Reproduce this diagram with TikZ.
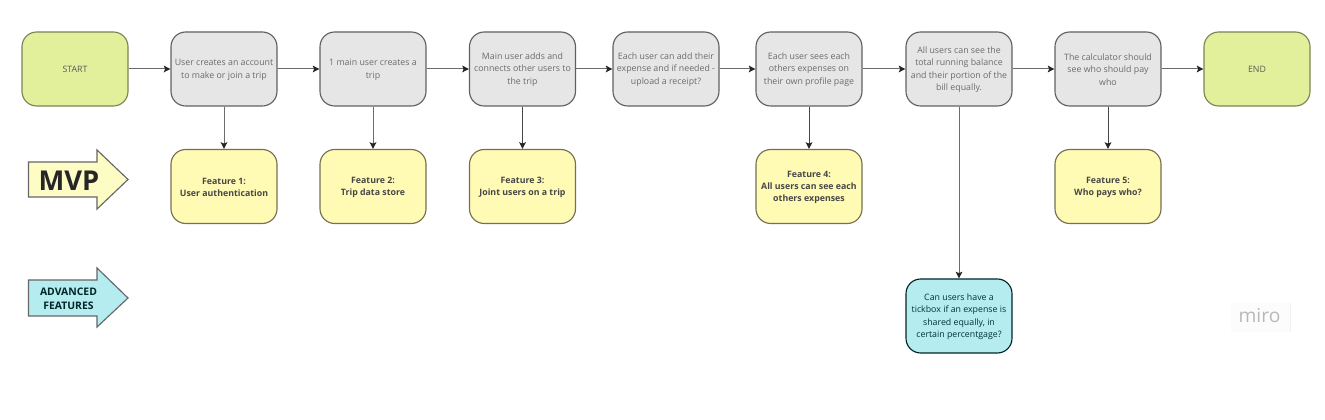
\documentclass[tikz,border=0pt]{standalone}
\usepackage{fontspec}
\setmainfont{Open Sans}
\usetikzlibrary{arrows.meta}
\definecolor{greenf}{HTML}{E2F09C}
\definecolor{grayf}{HTML}{E6E6E6}
\definecolor{yelf}{HTML}{FFFAB4}
\definecolor{tealf}{HTML}{B5ECF0}
\definecolor{arrowy}{HTML}{FDFCC4}
\newcommand{\lowerline}{\rule{0pt}{6pt}}
\tikzset{
  box/.style={draw=#1, line width=0.85pt, rounded corners=11pt, minimum width=79.5pt, minimum height=55.5pt, inner sep=0pt, align=center, font=\fontsize{6.6}{9.3}\selectfont},
  startbox/.style={box=#1!55!black, fill=greenf, text=black!65},
  stepbox/.style={box=black!62, fill=grayf, text=black!58},
  featbox/.style={box=#1!45!black, fill=yelf, text=black!72, font=\fontsize{6.6}{9.1}\selectfont\bfseries},
  advbox/.style={box=black!70!teal, fill=tealf, text=black!60!teal},
  flow/.style={draw=black!58, line width=0.75pt, -{Stealth[length=5pt,width=5pt,inset=1pt,black!85]}},
  flowdark/.style={flow, draw=black!72},
  bigarrow/.style={draw=black!60, line width=0.85pt, line join=miter},
}
\begin{document}
\begin{tikzpicture}[x=0.75pt,y=-0.75pt]
\useasboundingbox (0,0) rectangle (1325,420);
\fill[white] (0,0) rectangle (1325,420);
% main row
\node[startbox=greenf] (start) at (75,69) {\rule{0pt}{6pt}START};
\node[stepbox] (s1) at (224,69) {\lowerline User creates an account\\to make or join a trip};
\node[stepbox] (s2) at (373,69) {\lowerline 1 main user creates a\\trip};
\node[stepbox] (s3) at (522.5,69) {\lowerline Main user adds and\\connects other users to\\the trip};
\node[stepbox] (s4) at (666,69) {\lowerline Each user can add their\\expense and if needed -\\upload a receipt?};
\node[stepbox] (s5) at (809,69) {\lowerline Each user sees each\\others expenses on\\their own profile page};
\node[stepbox] (s6) at (959,69) {\lowerline All users can see the\\total running balance\\and their portion of the\\bill equally.};
\node[stepbox] (s7) at (1108,69) {\lowerline The calculator should\\see who should pay\\who};
\node[startbox=greenf] (end) at (1257,69) {\rule{0pt}{6pt}END};
% features
\node[featbox=yelf] (f1) at (224,186.5) {\lowerline Feature 1:\\User authentication};
\node[featbox=yelf] (f2) at (373,186.5) {\lowerline Feature 2:\\Trip data store};
\node[featbox=yelf] (f3) at (522.5,186.5) {\lowerline Feature 3:\\Joint users on a trip};
\node[featbox=yelf] (f4) at (809,186.5) {\lowerline Feature 4:\\All users can see each\\others expenses};
\node[featbox=yelf] (f5) at (1108,186.5) {\lowerline Feature 5:\\Who pays who?};
\node[advbox] (a1) at (959,316) {\lowerline Can users have a\\tickbox if an expense is\\shared equally, in\\certain percentgage?};
% connectors
\draw[flow] (start) -- (s1);
\draw[flow] (s1) -- (s2);
\draw[flow] (s2) -- (s3);
\draw[flow] (s3) -- (s4);
\draw[flow] (s4) -- (s5);
\draw[flow] (s5) -- (s6);
\draw[flow] (s6) -- (s7);
\draw[flow] (s7) -- (end);
\draw[flow] (s1) -- (f1);
\draw[flow] (s2) -- (f2);
\draw[flowdark] (s3) -- (f3);
\draw[flowdark] (s5) -- (f4);
\draw[flowdark] (s7) -- (f5);
\draw[flow] (s6) -- (a1);
% side arrows
\draw[bigarrow, fill=arrowy] (28.5,162) -- (97,162) -- (97,150) -- (128,179.5) -- (97,209) -- (97,197) -- (28.5,197) -- cycle;
\node[inner sep=0pt, text=black!85, font=\fontsize{20.5}{24}\selectfont\bfseries] (mvp) at (69,181) {MVP};
\draw[bigarrow, fill=tealf] (28.5,280) -- (97,280) -- (97,268) -- (128,298) -- (97,327) -- (97,316) -- (28.5,316) -- cycle;
\node[inner sep=0pt, align=center, text=black!70!teal, font=\fontsize{7.8}{10.5}\selectfont\bfseries] (adv) at (68.5,299) {ADVANCED\\FEATURES};
% watermark
\fill[black!1] (1231,303) rectangle (1290,332);
\draw[black!5, line width=0.5pt] (1290.5,303) -- (1290.5,332);
\node[inner sep=0pt, text=black!28, font=\fontsize{14.4}{15}\selectfont] (miro) at (1259.5,316) {miro};
\end{tikzpicture}
\end{document}
